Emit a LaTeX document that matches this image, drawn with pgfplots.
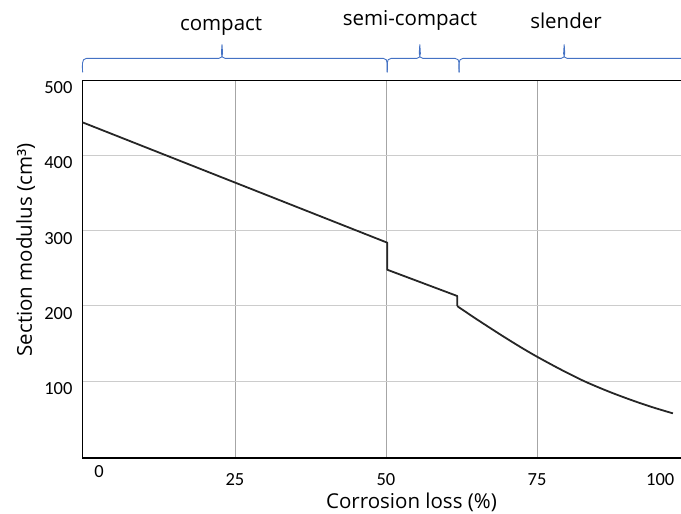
\documentclass[border=0pt]{standalone}
\usepackage{pgfplots}
\pgfplotsset{compat=1.18}
\usepackage{fontspec}
\setmainfont{Open Sans}
\newfontfamily\tickfont{Carlito}
\definecolor{curve}{RGB}{38,38,38}
\definecolor{bracecol}{RGB}{68,114,196}
\definecolor{vgrid}{RGB}{166,166,166}
\definecolor{hgrid}{RGB}{204,204,204}

% brace: start x, tip x, end x (axis units)
\newcommand\sbrace[3]{%
  \draw[bracecol, line width=0.9pt, line join=round]
    (axis cs:#1,510.6) to[out=90,in=180] ([xshift=4pt]axis cs:#1,529.2)
    -- ([xshift=-3pt]axis cs:#2,529.2) to[out=0,in=-90] (axis cs:#2,547.4)
    to[out=-90,in=180] ([xshift=3pt]axis cs:#2,529.2)
    -- ([xshift=-4pt]axis cs:#3,529.2) to[out=0,in=90] (axis cs:#3,510.6);}

\begin{document}
\begin{tikzpicture}
\begin{axis}[
  scale only axis,
  width=605.4pt, height=377.7pt,
  xmin=-0.23, xmax=100, ymin=-2.5, ymax=500,
  clip=false,
  axis line style={black, line width=1.2pt},
  xtick={25,50,75}, ytick={100,200,300,400,500},
  extra x ticks={2.48,95.4},
  extra x tick labels={\raisebox{8pt}{0},100},
  extra x tick style={grid=none},
  xmajorgrids, ymajorgrids,
  x grid style={vgrid, line width=0.9pt},
  y grid style={hgrid, line width=0.9pt},
  major tick length=0pt,
  /pgf/number format/assume math mode=true,
  ticklabel style={font=\tickfont\fontsize{18.5}{20}\selectfont, inner sep=0pt},
  xticklabel style={anchor=base, yshift=-28pt},
  yticklabel style={anchor=base east, xshift=-10pt, yshift=-13.5pt},
  label style={font=\fontsize{20.5}{24}\selectfont},
  xlabel={Corrosion loss (\%)},
  ylabel={Section modulus (cm³)},
  xlabel style={at={(axis description cs:0.5433,-0.1324)}, anchor=base},
  ylabel style={at={(axis description cs:-0.0836,0.5507)}, anchor=base},
]
\addplot[curve, line width=1.8pt, line join=round] coordinates {
  (-0.23,444) (50.2,284) (50.2,248) (61.8,213) (61.8,199.5)};
\addplot[curve, line width=1.8pt, smooth, tension=0.5] coordinates {
  (61.8,199.5) (65,182.2) (68.9,161.9) (72,146.4) (74.8,133.2) (78.8,115.8)
  (82.9,99.4) (87,85.5) (90.9,73.8) (94.3,64.6) (97.5,56.9)};

\sbrace{-0.23}{22.85}{50.2}
\sbrace{50.2}{55.6}{62.1}
\sbrace{62.1}{79.5}{101}

\node[anchor=base, font=\fontsize{20.5}{24}\selectfont] at (axis cs:22.7,566.4) {compact};
\node[anchor=base, font=\fontsize{20.5}{24}\selectfont] at (axis cs:53.97,572.4) {semi-compact};
\node[anchor=base, font=\fontsize{20.5}{24}\selectfont] at (axis cs:79.8,569.1) {slender};

\coordinate (SW) at (rel axis cs:0,0);
\end{axis}
\pgfresetboundingbox
\path[use as bounding box] ([shift={(-82.6pt,-56pt)}]SW) rectangle ([shift={(598.4pt,458pt)}]SW);
\end{tikzpicture}
\end{document}
